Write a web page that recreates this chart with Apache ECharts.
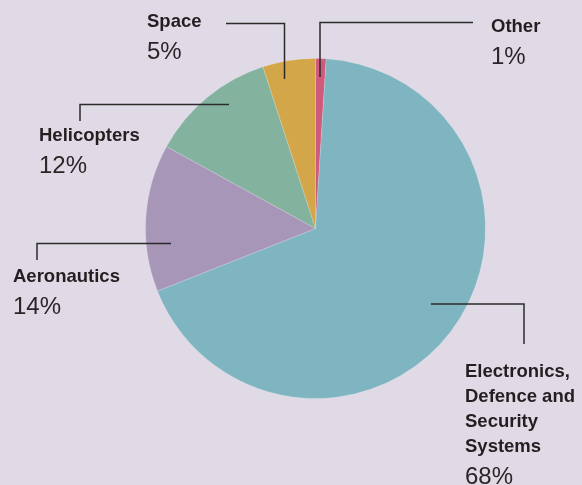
<!DOCTYPE html>
<html>
<head>
<meta charset="utf-8">
<script src="https://cdn.jsdelivr.net/npm/echarts@6/dist/echarts.min.js"></script>
<style>
  html, body { margin: 0; padding: 0; background: #e0dae6; }
  #chart { width: 582px; height: 485px; }
</style>
</head>
<body>
<div id="chart"></div>
<script>
// Revenue split by business segment (percent), clockwise from 12 o'clock
const categories = ['Other', 'Electronics,\nDefence and\nSecurity\nSystems', 'Aeronautics', 'Helicopters', 'Space'];
const shares = [1, 68, 14, 12, 5];
const colors = ['#cf5a7a', '#7fb5c1', '#a896b9', '#83b39f', '#d4a64a'];

// Callout placement for each segment: label top-left and leader polyline
const callouts = [
  { x: 491, y: 14, line: [[320, 77], [320, 22.5], [473, 22.5]] },
  { x: 465, y: 359.5, line: [[431, 304], [524, 304], [524, 344]] },
  { x: 13, y: 264.5, line: [[171, 243.5], [37, 243.5], [37, 260]] },
  { x: 39, y: 123.5, line: [[229, 104.5], [80, 104.5], [80, 121]] },
  { x: 147, y: 9.5, line: [[284.5, 79], [284.5, 23.5], [226, 23.5]] }
];

const chart = echarts.init(document.getElementById('chart'), null, { renderer: 'canvas' });

const textColor = '#231f20';
const fontFamily = '"Liberation Sans", Arial, sans-serif';

chart.setOption({
  backgroundColor: '#e0dae6',
  animation: false,
  // leader lines are drawn above the slices
  graphic: callouts.map(c => ({
    type: 'polyline',
    z: 100,
    silent: true,
    shape: { points: c.line },
    style: { stroke: '#2b2b2b', lineWidth: 1.5, fill: null }
  })),
  series: [{
    type: 'pie',
    center: [315.5, 228.5],
    radius: 170,
    startAngle: 90,
    clockwise: true,
    avoidLabelOverlap: false,
    emphasis: { disabled: true },
    itemStyle: { borderColor: 'rgba(255,255,255,0.35)', borderWidth: 0.5 },
    data: categories.map((name, i) => ({
      name: name,
      value: shares[i],
      itemStyle: { color: colors[i] }
    })),
    label: {
      show: true,
      position: 'outside',
      formatter: (p) => p.name.split('\n').map(s => '{n|' + s + '}').join('\n') + '\n{p|' + p.value + '%}',
      rich: {
        n: { fontFamily: fontFamily, fontWeight: 'bold', fontSize: 18.5, lineHeight: 25, color: textColor },
        p: { fontFamily: fontFamily, fontWeight: 'normal', fontSize: 24, lineHeight: 36, color: '#2a2627' }
      }
    },
    labelLine: { show: false },
    labelLayout: (params) => {
      const c = callouts[params.dataIndex];
      return { x: c.x, y: c.y, align: 'left', verticalAlign: 'top' };
    }
  }]
});
</script>
</body>
</html>
